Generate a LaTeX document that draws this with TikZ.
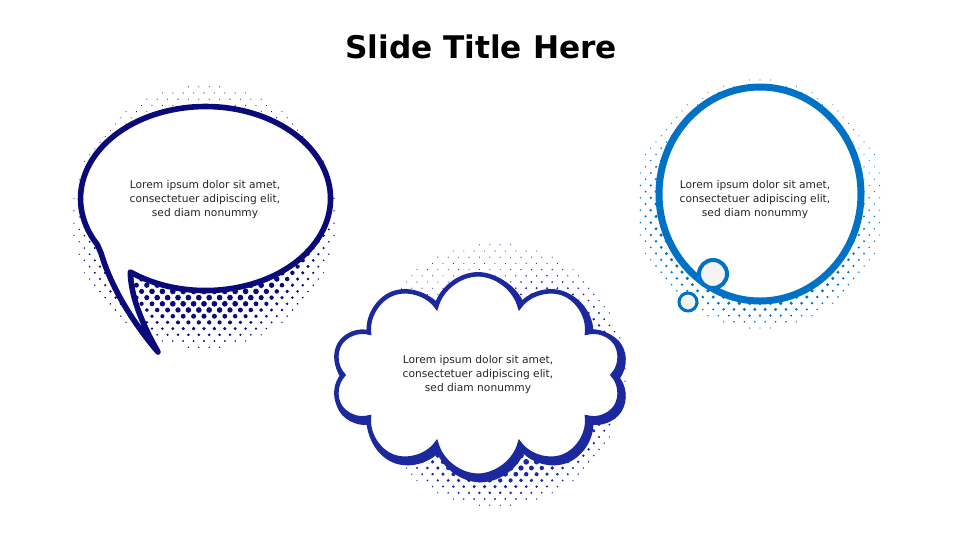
\documentclass[tikz,border=0pt]{standalone}
\usepackage{fontspec}
\setmainfont{DejaVu Sans}
\usepackage{xcolor}
\usetikzlibrary{shapes.symbols}

\definecolor{navyline}{RGB}{10,10,122}
\definecolor{cloudblue}{RGB}{28,40,158}
\definecolor{skyblue}{RGB}{0,114,198}
\definecolor{puffgrey}{RGB}{244,243,241}

% halftone dots: centre x, centre y, radius, direction x, direction y, colour, largest dot
\newcommand{\halftone}[7]{%
  \foreach \k in {-22,...,22}{
    \foreach \m in {-13,...,13}{
      \pgfmathsetmacro\dotu{(\m+0.5*mod(abs(\k),2))*10.4/#3}
      \pgfmathsetmacro\dotv{\k*6.2/#3}
      \pgfmathsetmacro\dotd{sqrt(\dotu*\dotu+\dotv*\dotv)}
      \ifdim\dotd pt<0.99pt
        \pgfmathsetmacro\dotr{0.55+#7*min(1,max(0,(\dotu*#4+\dotv*#5+0.6)/1.0))*min(1,(1-\dotd)/0.3)}
        \pgfmathsetmacro\dotx{#1+\dotu*#3}
        \pgfmathsetmacro\doty{#2+\dotv*#3}
        \fill[#6] (\dotx,\doty) circle[radius=\dotr];
      \fi
    }
  }
}

\begin{document}
\begin{tikzpicture}[x=0.75pt, y=-0.75pt,
    body/.style={font=\fontsize{8}{10.5}\selectfont, align=center, text=black!85},
    puffy/.style={cloud, cloud puffs=10, cloud puff arc=150, cloud ignores aspect,
        minimum width=218pt, minimum height=151pt}]
    \fill[white] (0,0) rectangle (960,540);
    \useasboundingbox (0,0) rectangle (960,540);

    % dots behind the bubbles
    \halftone{204}{217}{134}{0.35}{0.94}{navyline}{2.3}
    \halftone{495}{375}{133}{0.6}{0.8}{cloudblue}{2.3}
    \halftone{760}{204}{126}{-0.35}{0.94}{skyblue}{2.0}

    % speech bubble
    \draw[navyline, fill=white, line width=4.2pt, line join=round]
        (130.3,272) arc[start angle=127, end angle=-210, x radius=125, y radius=92]
        -- (101,253) .. controls (112,290) and (135,325) .. (158,352)
        .. controls (140,320) and (131,295) .. cycle;

    % cloud
    \node[puffy, draw=cloudblue, line width=5.5pt] (cloudshade) at (480.5,378) {};
    \node[puffy, draw=cloudblue, fill=white, line width=3.4pt, body] (cloudtext) at (478,375)
        {Lorem ipsum dolor sit amet,\\consectetuer adipiscing elit,\\sed diam nonummy};

    % thought bubble
    \draw[skyblue, fill=white, line width=5.25pt] (760,194) ellipse[x radius=101, y radius=107];
    \draw[skyblue, fill=puffgrey, line width=3pt] (713,274) circle[radius=14];
    \draw[skyblue, fill=puffgrey, line width=2.25pt] (688,302) circle[radius=9];

    \node[body] (speechtext) at (205,200)
        {Lorem ipsum dolor sit amet,\\consectetuer adipiscing elit,\\sed diam nonummy};
    \node[body] (thoughttext) at (755,200)
        {Lorem ipsum dolor sit amet,\\consectetuer adipiscing elit,\\sed diam nonummy};

    \node[font=\bfseries\fontsize{23.4}{28}\selectfont, anchor=base] (title) at (481,58) {Slide Title Here};
\end{tikzpicture}
\end{document}
